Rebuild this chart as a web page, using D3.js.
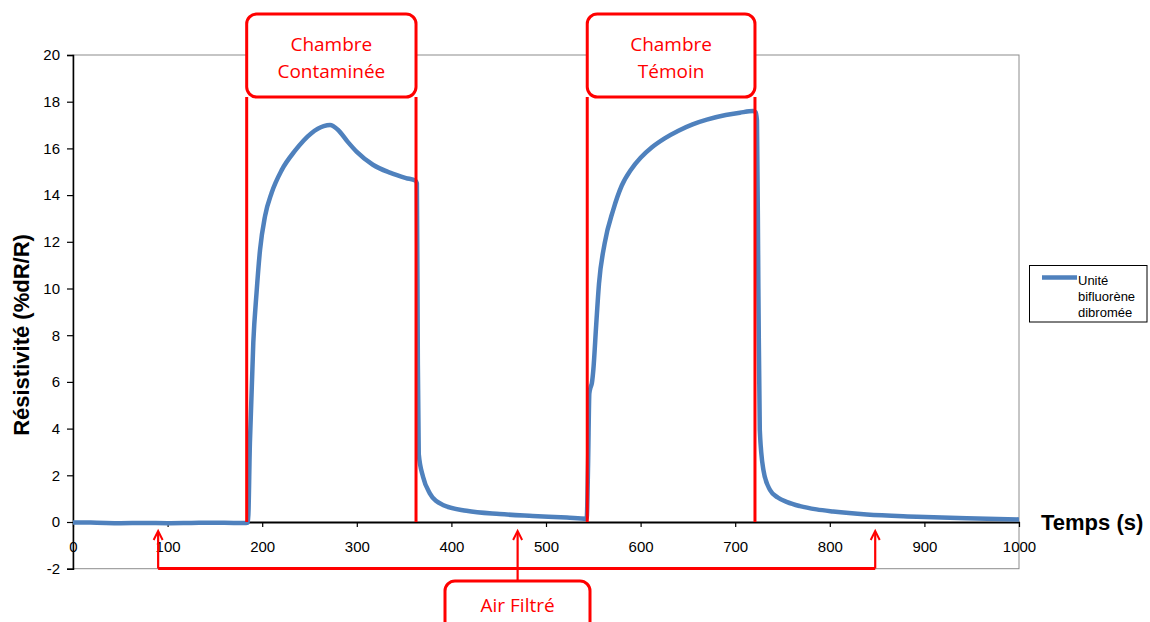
<!DOCTYPE html>
<html><head><meta charset="utf-8">
<script src="https://cdn.jsdelivr.net/npm/d3@7"></script>
<style>html,body{margin:0;padding:0;background:#fff;}svg{display:block;}</style>
</head><body>
<script>
// ---- data ----
const time = [0, 25, 50, 75, 100, 125, 150, 170, 183, 185, 187, 190.6, 194, 197.7, 203, 210, 220.6, 234.7, 252, 265, 271.7, 280, 290, 300, 317, 335, 352, 362, 363.5, 364.5, 365.5, 370, 377, 391, 416, 451, 486, 522, 543, 544.5, 545.8, 547, 548.5, 550, 553, 556, 562, 571, 580, 590, 600, 612, 625, 640, 655, 670, 690, 705, 719, 721.5, 723, 724.5, 726, 729.8, 736.8, 745, 755, 768.5, 786, 803.5, 839, 892, 944.7, 1000];
const resistivity = [-0.02, -0.03, -0.05, -0.04, -0.05, -0.04, -0.03, -0.04, -0.04, -0.02, 3.4, 7.7, 9.8, 11.65, 13.1, 14.1, 15.07, 15.9, 16.65, 16.95, 17.0, 16.8, 16.3, 15.85, 15.3, 14.96, 14.73, 14.62, 14.5, 7.0, 2.9, 1.94, 1.24, 0.73, 0.48, 0.34, 0.26, 0.19, 0.14, 2.5, 5.5, 5.75, 5.95, 6.5, 8.4, 10.2, 11.93, 13.36, 14.4, 15.1, 15.6, 16.05, 16.42, 16.76, 17.03, 17.23, 17.43, 17.53, 17.6, 17.55, 17.2, 10.0, 3.94, 2.23, 1.37, 1.05, 0.85, 0.68, 0.54, 0.45, 0.32, 0.23, 0.16, 0.11];
const xTicks = [0, 100, 200, 300, 400, 500, 600, 700, 800, 900, 1000];
const yTicks = [-2, 0, 2, 4, 6, 8, 10, 12, 14, 16, 18, 20];
const seriesName = ["Unité", "bifluorène", "dibromée"];
const phaseTimes = [183.6, 362.6, 543.6, 720.9];
const phaseLabels = [["Chambre", "Contaminée"], ["Chambre", "Témoin"]];
const arrowTimes = [90, 470, 848];
const airLabel = "Air Filtré";

// ---- chart ----
const W = 1150, H = 622;
const svg = d3.select("body").append("svg").attr("width", W).attr("height", H);
const x = d3.scaleLinear().domain([0, 1000]).range([73, 1019]);
const y = d3.scaleLinear().domain([-2, 20]).range([568.7, 55]);
const axisFont = "'Liberation Sans', Arial, sans-serif";
const red = "#ff0000";
const fmt = d => String(d);

// frame
svg.append("rect").attr("x", x(0)).attr("y", y(20)).attr("width", x(1000) - x(0)).attr("height", y(-2) - y(20))
  .attr("fill", "none").attr("stroke", "#8c8c8c").attr("stroke-width", 1);

// y axis
const yAxis = svg.append("g").attr("transform", `translate(${x(0)},0)`)
  .call(d3.axisLeft(y).tickValues(yTicks).tickSize(6).tickPadding(7).tickFormat(fmt));
yAxis.select(".domain").attr("stroke", "#000").attr("stroke-width", 1.5);
yAxis.selectAll(".tick line").attr("stroke", "#000").attr("stroke-width", 1.2);
yAxis.selectAll("text").attr("font-family", axisFont).attr("font-size", 15).attr("fill", "#000");

// x axis at y=0
const xAxis = svg.append("g").attr("transform", `translate(0,${y(0)})`)
  .call(d3.axisBottom(x).tickValues(xTicks).tickSize(5).tickSizeOuter(0).tickPadding(14).tickFormat(fmt));
xAxis.select(".domain").attr("stroke", "#000").attr("stroke-width", 2);
xAxis.selectAll(".tick line").attr("stroke", "#000").attr("stroke-width", 1.2);
xAxis.selectAll("text").attr("font-family", axisFont).attr("font-size", 15).attr("fill", "#000");

// axis titles
svg.append("text").attr("transform", `translate(29,335) rotate(-90)`).attr("text-anchor", "middle")
  .attr("font-family", axisFont).attr("font-weight", "bold").attr("font-size", 22).text("Résistivité (%dR/R)");
svg.append("text").attr("x", 1041).attr("y", y(0) + 8).attr("font-family", axisFont).attr("font-weight", "bold")
  .attr("font-size", 22).text("Temps (s)");

// data line
const pts = time.map((t, i) => [t, resistivity[i]]);
svg.append("path").datum(pts)
  .attr("d", d3.line().x(d => x(d[0])).y(d => y(d[1])).curve(d3.curveMonotoneX))
  .attr("fill", "none").attr("stroke", "#4f81bd").attr("stroke-width", 4.5).attr("stroke-linejoin", "round");

// annotations: phase lines and boxes
const annFont = "'Open Sans', 'Noto Sans', sans-serif";
phaseTimes.forEach(t => {
  svg.append("line").attr("x1", x(t)).attr("x2", x(t)).attr("y1", 97).attr("y2", y(0))
    .attr("stroke", red).attr("stroke-width", 3);
});
phaseLabels.forEach((lab, i) => {
  const x0 = x(phaseTimes[2 * i]), x1 = x(phaseTimes[2 * i + 1]);
  svg.append("rect").attr("x", x0).attr("y", 14).attr("width", x1 - x0).attr("height", 83)
    .attr("rx", 10).attr("ry", 10).attr("fill", "#fff").attr("stroke", red).attr("stroke-width", 3);
  lab.forEach((s, j) => {
    svg.append("text").attr("x", (x0 + x1) / 2).attr("y", 51 + j * 27).attr("text-anchor", "middle")
      .attr("font-family", annFont).attr("font-size", 19).attr("fill", red).text(s);
  });
});

// bottom bracket & arrows
const yb = 568.5;
svg.append("line").attr("x1", x(arrowTimes[0])).attr("x2", x(arrowTimes[2])).attr("y1", yb).attr("y2", yb)
  .attr("stroke", red).attr("stroke-width", 3);
arrowTimes.forEach((t, i) => {
  const ax = x(t);
  const yEnd = i === 1 ? 581 : yb;
  svg.append("line").attr("x1", ax).attr("x2", ax).attr("y1", yEnd).attr("y2", 533)
    .attr("stroke", red).attr("stroke-width", 2.2);
  svg.append("path").attr("d", `M${ax - 4.5},${540} L${ax},${531} L${ax + 4.5},${540}`)
    .attr("fill", "none").attr("stroke", red).attr("stroke-width", 2);
});
svg.append("rect").attr("x", 445).attr("y", 581).attr("width", 145).attr("height", 70)
  .attr("rx", 10).attr("ry", 10).attr("fill", "#fff").attr("stroke", red).attr("stroke-width", 3);
svg.append("text").attr("x", x(arrowTimes[1])).attr("y", 612).attr("text-anchor", "middle")
  .attr("font-family", annFont).attr("font-size", 19).attr("fill", red).text(airLabel);

// legend
const lg = svg.append("g");
lg.append("rect").attr("x", 1029.5).attr("y", 265.5).attr("width", 117.5).attr("height", 56.5)
  .attr("fill", "#fff").attr("stroke", "#000").attr("stroke-width", 1);
lg.append("line").attr("x1", 1042).attr("x2", 1077).attr("y1", 277.5).attr("y2", 277.5)
  .attr("stroke", "#4f81bd").attr("stroke-width", 4.5);
seriesName.forEach((s, i) => {
  lg.append("text").attr("x", 1078).attr("y", 285 + i * 16).attr("font-family", axisFont)
    .attr("font-size", 13).attr("fill", "#000").text(s);
});
</script>
</body></html>
